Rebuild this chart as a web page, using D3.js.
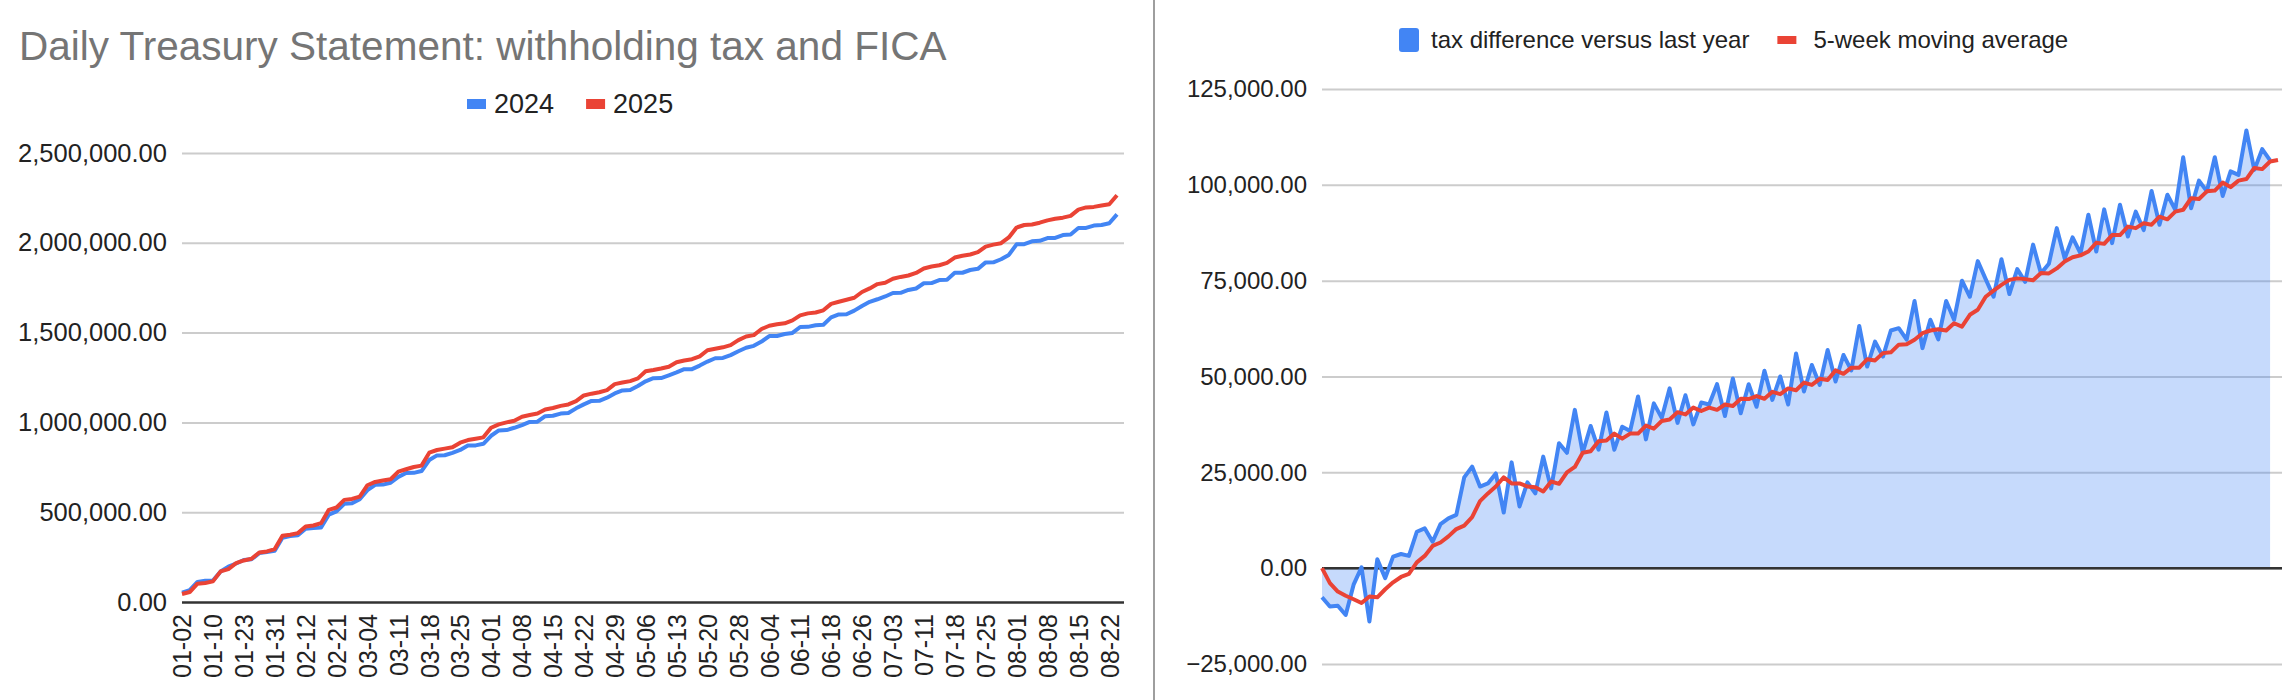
<!DOCTYPE html>
<html><head><meta charset="utf-8">
<script src="https://cdn.jsdelivr.net/npm/d3@7"></script>
<style>
html,body{margin:0;padding:0;background:#fff;}
svg{display:block;font-family:"Liberation Sans",Arial,Helvetica,sans-serif;}
</style></head><body>
<svg id="c" width="2290" height="700"></svg>
<script>
// ---------- DATA ----------
const dates = [
"01-02","01-03","01-06","01-08","01-10","01-14","01-16","01-21","01-23","01-27","01-29","01-30",
"01-31","02-04","02-06","02-10","02-12","02-14","02-18","02-19","02-21","02-25","02-27","03-03",
"03-04","03-06","03-07","03-10","03-11","03-13","03-14","03-17","03-18","03-20","03-21","03-24",
"03-25","03-27","03-28","03-31","04-01","04-03","04-04","04-07","04-08","04-10","04-11","04-14",
"04-15","04-17","04-18","04-21","04-22","04-24","04-25","04-28","04-29","05-01","05-02","05-05",
"05-06","05-08","05-09","05-12","05-13","05-15","05-16","05-19","05-20","05-22","05-23","05-27",
"05-28","05-30","06-02","06-03","06-04","06-06","06-09","06-10","06-11","06-13","06-16","06-17",
"06-18","06-23","06-24","06-25","06-26","06-30","07-01","07-02","07-03","07-08","07-09","07-10",
"07-11","07-15","07-16","07-17","07-18","07-22","07-23","07-24","07-25","07-29","07-30","07-31",
"08-01","08-05","08-06","08-07","08-08","08-12","08-13","08-14","08-15","08-19","08-20","08-21",
"08-22","08-25"];

const tickLabels = ["01-02","01-10","01-23","01-31","02-12","02-21","03-04","03-11","03-18","03-25",
"04-01","04-08","04-15","04-22","04-29","05-06","05-13","05-20","05-28","06-04","06-11","06-18",
"06-26","07-03","07-11","07-18","07-25","08-01","08-08","08-15","08-22"];

const leftTicks = [0,500000,1000000,1500000,2000000,2500000];
const rightTicks = [-25000,0,25000,50000,75000,100000,125000];

const series2024 = [
52000,65600,111700,117800,119100,170200,197200,214400,234100,237800,272300,278300,
285000,358100,367200,371900,407400,412100,415200,486500,504700,546500,549400,572600,
622500,652500,653600,663900,696900,718200,719000,729200,790200,816300,817000,830300,
846500,871000,872000,880900,925600,955400,957000,970100,984700,1002900,1004000,1034800,
1036800,1049300,1052000,1078300,1100500,1119600,1120000,1137900,1161500,1178100,1180000,1202300,
1229000,1245900,1247000,1262200,1278100,1296300,1296400,1316400,1338800,1357400,1358900,1374800,
1396000,1415400,1426400,1450300,1480600,1481200,1492300,1498300,1531200,1532000,1541200,1543900,
1584600,1601200,1602000,1622500,1648000,1671300,1685600,1701100,1720600,1721300,1737200,1745700,
1774900,1775800,1792400,1794400,1833200,1833200,1848500,1855000,1890800,1891600,1908400,1932600,
1991500,1992000,2008100,2010900,2026700,2026800,2042900,2046500,2082400,2083000,2096100,2098700,
2108600,2158000];

const series2025 = [
44400,55600,101900,105600,114800,170400,183300,216700,231500,240800,276000,281500,
294500,368500,374100,383400,420400,426000,438900,513000,526000,568600,574100,587100,
650100,668600,676000,683400,726000,739000,751600,759300,831500,846400,854100,861200,
887100,901900,908900,916700,970400,989000,1000000,1009300,1031600,1040800,1049100,1072300,
1080000,1092000,1100000,1118000,1150000,1160000,1168000,1180000,1213000,1222000,1230000,1245000,
1285000,1292000,1300000,1310000,1335000,1345000,1352000,1368000,1402000,1410000,1418000,1430000,
1458000,1478000,1486000,1520000,1538000,1546000,1552000,1568000,1596000,1607000,1612000,1624000,
1660000,1672000,1682600,1694000,1726000,1746000,1770000,1778000,1800000,1810000,1818000,1832000,
1857000,1868000,1875000,1888000,1918000,1928000,1935000,1948000,1979000,1990000,1998000,2030000,
2085000,2099200,2102000,2112000,2125000,2134000,2140000,2150000,2185000,2197200,2200000,2208000,
2215000,2265000];

const taxDifference = [
-7600,-10000,-9800,-12200,-4300,200,-13900,2300,-2600,3000,3700,3200,
9500,10400,6900,11500,13000,13900,23700,26500,21300,22100,24700,14500,
27600,16100,22400,19500,29100,20800,32600,30100,41300,30100,37100,30900,
40600,30900,36900,35800,44800,33600,43000,39200,46900,37900,45100,37500,
43200,42700,48000,39700,49500,40400,48000,42100,51500,43900,50000,42700,
56000,46100,53000,47800,56900,48700,55600,51600,63200,52600,59100,55200,
62000,62600,59600,69700,57400,64800,59700,69700,64800,75000,70800,80100,
75400,70800,80600,71500,78000,74700,84400,76900,79400,88700,80800,86300,
82100,92200,82600,93600,84800,94800,86500,93000,88200,98400,89600,97400,
93500,107200,93900,101100,98300,107200,97100,103500,102600,114200,103900,109300,
106400];

const movingAverage = [
0,-3900,-6100,-7200,-8100,-9100,-7400,-7600,-5500,-3700,-2300,-1500,
1500,3200,5800,6700,8300,10200,11100,13300,17500,19500,21300,23700,
22100,22100,21300,21100,20000,22600,22000,25000,26400,30100,30500,33100,
33300,35100,33800,35100,35100,37200,36400,38400,38800,40700,40100,41900,
41000,41900,41300,42700,42300,44200,44100,44900,44200,46000,45400,46900,
46400,48400,47800,49400,49100,51600,50700,52300,52300,54500,54200,56100,
56300,58300,58400,59600,61300,62000,62300,62000,63900,63000,66100,67400,
70800,72400,73900,75200,75600,75400,75100,77000,76900,78200,80000,81100,
81600,82600,84900,84600,86900,86900,89100,88700,90000,89600,91700,91000,
93000,93500,96500,96300,98300,98500,100600,99400,101100,101500,104400,104100,
106100,106500];

const leftTitle = "Daily Treasury Statement: withholding tax and FICA";
const leftLegend = [{name:"2024", color:"#4285F4"}, {name:"2025", color:"#EA4335"}];
const rightLegend = [{name:"tax difference versus last year", color:"#4285F4", kind:"area"},
                     {name:"5-week moving average", color:"#EA4335", kind:"line"}];

// ---------- DRAW ----------
const FONT = '"Liberation Sans",Arial,Helvetica,sans-serif';
const svg = d3.select("#c");
svg.append("rect").attr("width",2290).attr("height",700).attr("fill","#fff");
const fmt = d3.format(",.2f");

function styleAxisText(g, size){
  g.attr("font-family",FONT).attr("font-size",size);
  g.selectAll(".tick text").attr("fill","#222");
}

// ===== LEFT CHART =====
const L = {x0:182, x1:1124, px1:1117};
const xL = d3.scalePoint().domain(dates).range([L.x0, L.px1]);
const yL = d3.scaleLinear().domain([0,2500000]).range([602,153]);

svg.append("text").attr("x",19).attr("y",60).attr("font-family",FONT)
  .attr("font-size",40.5).attr("fill","#757575").text(leftTitle);

const gyL = svg.append("g").attr("transform",`translate(${L.x0},0)`)
  .call(d3.axisLeft(yL).tickValues(leftTicks).tickFormat(fmt)
        .tickSize(-(L.x1-L.x0)).tickPadding(15));
gyL.select(".domain").remove();
gyL.selectAll(".tick line").attr("stroke","#cccccc").attr("stroke-width",2);
styleAxisText(gyL, 25.5);
gyL.selectAll(".tick").filter(d=>d===0).select("line").attr("stroke","#333").attr("stroke-width",2.5);

const gxL = svg.append("g").attr("transform",`translate(0,${yL(0)})`)
  .call(d3.axisBottom(xL).tickValues(tickLabels).tickSize(0).tickPadding(0));
gxL.select(".domain").remove();
styleAxisText(gxL, 25);
gxL.selectAll(".tick text").attr("transform","rotate(-90)").attr("x",-12).attr("y",0)
  .attr("dy","0.35em").attr("text-anchor","end");

const lineL = d3.line().x((d,i)=>xL(dates[i])).y(d=>yL(d)).curve(d3.curveLinear);
svg.append("path").datum(series2024).attr("d",lineL).attr("fill","none")
  .attr("stroke","#4285F4").attr("stroke-width",4).attr("stroke-linejoin","round");
svg.append("path").datum(series2025).attr("d",lineL).attr("fill","none")
  .attr("stroke","#EA4335").attr("stroke-width",4).attr("stroke-linejoin","round");

// left legend
{
  let x = 467;
  const g = svg.append("g").attr("font-family",FONT).attr("font-size",27);
  leftLegend.forEach(item=>{
    g.append("rect").attr("x",x).attr("y",99).attr("width",19).attr("height",10).attr("fill",item.color);
    const t = g.append("text").attr("x",x+27).attr("y",113).attr("fill","#222").text(item.name);
    x += 27 + t.node().getComputedTextLength() + 32;
  });
}

// divider
svg.append("line").attr("x1",1154).attr("x2",1154).attr("y1",0).attr("y2",700)
  .attr("stroke","#9e9e9e").attr("stroke-width",2);

// ===== RIGHT CHART =====
const R = {x0:1322, x1:2282, px1:2278};
const xR = d3.scalePoint().domain(dates).range([R.x0, R.px1]);
const yR = d3.scaleLinear().domain([-25000,125000]).range([664,89]);

const gyR = svg.append("g").attr("transform",`translate(${R.x0},0)`)
  .call(d3.axisLeft(yR).tickValues(rightTicks).tickFormat(fmt)
        .tickSize(-(R.x1-R.x0)).tickPadding(15));
gyR.select(".domain").remove();
gyR.selectAll(".tick line").attr("stroke","#cccccc").attr("stroke-width",2);
styleAxisText(gyR, 24);

const areaR = d3.area().x((d,i)=>xR(dates[i])).y0(yR(0)).y1(d=>yR(d));
svg.append("path").datum(taxDifference).attr("d",areaR).attr("fill","#4285F4").attr("fill-opacity",0.3);

svg.append("line").attr("x1",R.x0).attr("x2",R.x1).attr("y1",yR(0)).attr("y2",yR(0))
  .attr("stroke","#333").attr("stroke-width",2.5);

const lineR = d3.line().x((d,i)=>xR(dates[i])).y(d=>yR(d));
svg.append("path").datum(taxDifference).attr("d",lineR).attr("fill","none")
  .attr("stroke","#4285F4").attr("stroke-width",4).attr("stroke-linejoin","round");
svg.append("path").datum(movingAverage).attr("d",lineR).attr("fill","none")
  .attr("stroke","#EA4335").attr("stroke-width",4).attr("stroke-linejoin","round");

// right legend
{
  let x = 1399;
  const g = svg.append("g").attr("font-family",FONT).attr("font-size",24);
  rightLegend.forEach(item=>{
    if(item.kind==="area"){
      g.append("rect").attr("x",x).attr("y",28).attr("width",20).attr("height",24).attr("rx",3).attr("fill",item.color);
    } else {
      g.append("rect").attr("x",x).attr("y",36).attr("width",19).attr("height",8).attr("fill",item.color);
    }
    const gap = item.kind==="area" ? 32 : 36;
    const t = g.append("text").attr("x",x+gap).attr("y",48).attr("fill","#222").text(item.name);
    x += gap + t.node().getComputedTextLength() + 28;
  });
}
</script>
</body></html>
